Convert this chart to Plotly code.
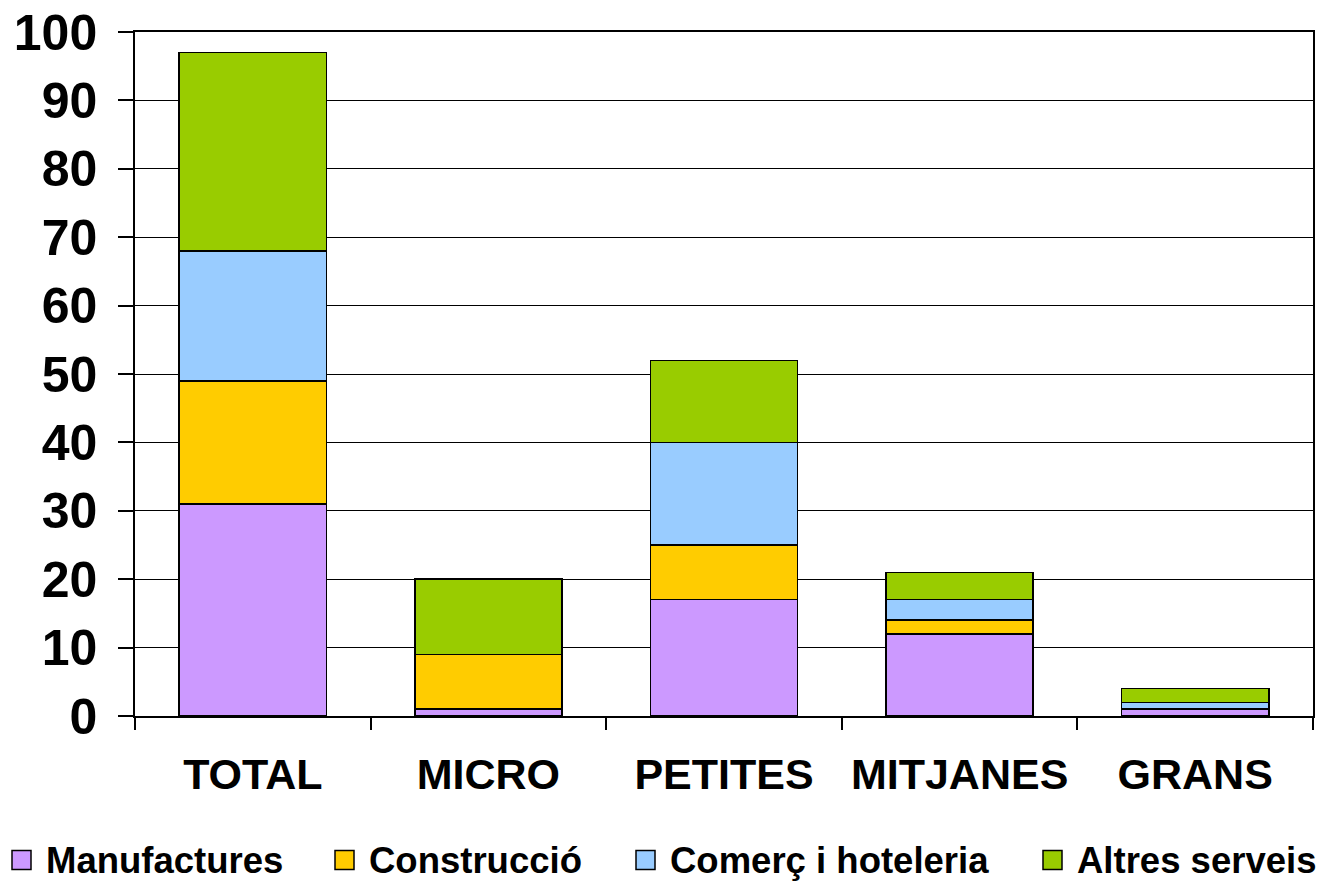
import plotly.graph_objects as go

categories = ["TOTAL", "MICRO", "PETITES", "MITJANES", "GRANS"]
manufactures = [31, 1, 17, 12, 1]
construccio = [18, 8, 8, 2, 0]
comerc = [19, 0, 15, 3, 1]
altres = [29, 11, 12, 4, 2]

series_names = ["Manufactures", "Construcció", "Comerç i hoteleria", "Altres serveis"]
series_values = [manufactures, construccio, comerc, altres]
colors = ["#CC99FF", "#FFCC00", "#99CCFF", "#99CC00"]
y_ticks = list(range(0, 101, 10))

FONT = "Liberation Sans, Arial, sans-serif"

fig = go.Figure()
for name, vals, col in zip(series_names, series_values, colors):
    fig.add_trace(go.Bar(
        x=categories, y=vals, name=name,
        marker=dict(color=col, line=dict(color="black", width=1.5)),
        showlegend=False,
    ))

fig.update_layout(
    barmode="stack",
    bargap=0.375,
    width=1321, height=882,
    margin=dict(l=135, r=8, t=32, b=166, autoexpand=False),
    plot_bgcolor="white", paper_bgcolor="white",
    font=dict(family=FONT, color="black"),
)

fig.update_yaxes(
    range=[0, 100], tickvals=y_ticks,
    showgrid=True, gridcolor="black", gridwidth=1,
    showline=True, linecolor="black", linewidth=1.5, mirror=True,
    ticks="outside", ticklen=15, tickcolor="black", tickwidth=1.5,
    tickfont=dict(family=FONT, size=50, color="black", weight="bold"),
    ticklabelstandoff=11,
    zeroline=False, automargin=False,
)
fig.update_xaxes(
    showline=True, linecolor="black", linewidth=1.5, mirror=True,
    ticks="outside", tickson="boundaries", ticklen=12, tickcolor="black", tickwidth=1.5,
    tickfont=dict(family=FONT, size=43, color="black", weight="bold"),
    ticklabelstandoff=20,
    showgrid=False, automargin=False,
)

# custom legend (squares + text) placed in pixel-like paper coords
legend_x_sq = [12, 335, 636, 1043]
pw = 1321 - 135 - 8
ph = 882 - 32 - 166
def px_to_paper_x(px):
    return (px - 135) / pw
def py_to_paper_y(py):
    return (882 - 166 - py) / ph

sq = 19
cy = 860
for name, col, x0 in zip(series_names, colors, legend_x_sq):
    fig.add_shape(
        type="rect", xref="paper", yref="paper",
        x0=px_to_paper_x(x0), x1=px_to_paper_x(x0 + sq),
        y0=py_to_paper_y(cy + sq / 2), y1=py_to_paper_y(cy - sq / 2),
        fillcolor=col, line=dict(color="black", width=1.5),
    )
    fig.add_annotation(
        xref="paper", yref="paper",
        x=px_to_paper_x(x0 + sq + 13), y=py_to_paper_y(cy),
        xanchor="left", yanchor="middle", showarrow=False,
        text="<b>" + name + "</b>",
        font=dict(family=FONT, size=36.5, color="black"),
    )

fig.write_html("out.html")
